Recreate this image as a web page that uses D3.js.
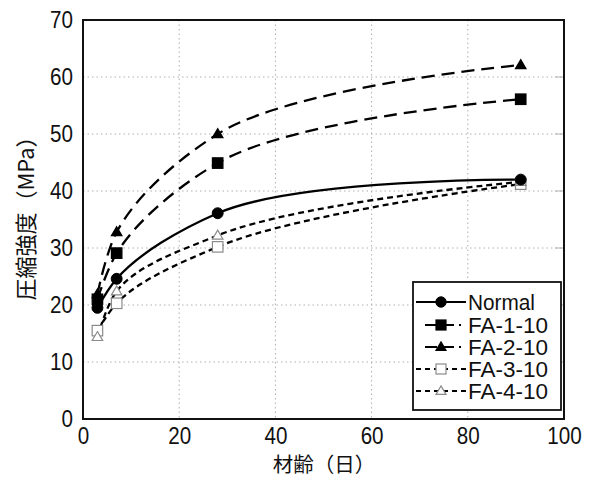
<!DOCTYPE html>
<html><head><meta charset="utf-8">
<script src="https://cdn.jsdelivr.net/npm/d3@7"></script>
<style>
html,body{margin:0;padding:0;background:#fff;}
svg{display:block;}
</style></head>
<body>
<svg id="chart" width="592" height="480"></svg>
<script>
// ---- data ----
const ages = [3, 7, 28, 91];
const normal = [19.5, 24.6, 36.1, 42.0];
const fa110 = [21.0, 29.1, 44.9, 56.1];
const fa210 = [21.9, 32.8, 50.0, 62.1];
const fa310 = [15.5, 20.3, 30.2, 41.2];
const fa410 = [14.4, 22.4, 32.2, 41.6];
const seriesNames = ["Normal", "FA-1-10", "FA-2-10", "FA-3-10", "FA-4-10"];
const xTicks = [0, 20, 40, 60, 80, 100];
const yTicks = [0, 10, 20, 30, 40, 50, 60, 70];
const xTitle = "材齢（日）";
const yTitle = "圧縮強度（MPa）";

const seriesValues = [normal, fa110, fa210, fa310, fa410];
const styles = [
  {dash: null, marker: "circle", fill: "#000", stroke: "#000"},
  {dash: "13,7", marker: "square", fill: "#000", stroke: "#000"},
  {dash: "13,7", marker: "triangle", fill: "#000", stroke: "#000"},
  {dash: "6,4", marker: "square", fill: "#fff", stroke: "#8a8a8a"},
  {dash: "6,4", marker: "triangle", fill: "#fff", stroke: "#8a8a8a"}
];

const svg = d3.select("#chart");
const L = 83, R = 564, T = 20, B = 419;
const x = d3.scaleLinear().domain([0, 100]).range([L, R]);
const y = d3.scaleLinear().domain([0, 70]).range([B, T]);
const numFont = "'Liberation Sans', Arial, sans-serif";
const cjkFont = "'Noto Sans CJK JP', 'Noto Sans', sans-serif";
const SX = 0.86;

// grid
const grid = svg.append("g");
grid.selectAll("line.gx").data(xTicks.filter(d => d > 0 && d < 100)).join("line")
  .attr("x1", d => x(d)).attr("x2", d => x(d)).attr("y1", T).attr("y2", B)
  .attr("stroke", "#b0b0b0").attr("stroke-width", 1).attr("stroke-dasharray", "1.5,3");
grid.selectAll("line.gy").data(yTicks.filter(d => d > 0 && d < 70)).join("line")
  .attr("x1", L).attr("x2", R).attr("y1", d => y(d)).attr("y2", d => y(d))
  .attr("stroke", "#b0b0b0").attr("stroke-width", 1).attr("stroke-dasharray", "1.5,3");
grid.selectAll("line.rt").data(yTicks.filter(d => d > 0 && d < 70)).join("line")
  .attr("x1", R - 9).attr("x2", R).attr("y1", d => y(d)).attr("y2", d => y(d))
  .attr("stroke", "#b0b0b0").attr("stroke-width", 1);

// axes via d3
const xAxis = d3.axisBottom(x).tickValues(xTicks).tickSize(0).tickPadding(8);
const gx = svg.append("g").attr("transform", `translate(0,${B})`).call(xAxis);
gx.select(".domain").remove();
gx.selectAll("text").attr("font-family", numFont).attr("font-size", 24).attr("fill", "#111")
  .attr("transform", `scale(${SX},1)`);

const yAxis = d3.axisLeft(y).tickValues(yTicks).tickSize(0).tickPadding(10);
const gy = svg.append("g").attr("transform", `translate(${L},0)`).call(yAxis);
gy.select(".domain").remove();
gy.selectAll("text").attr("font-family", numFont).attr("font-size", 24).attr("fill", "#111")
  .attr("x", -10 / SX).attr("transform", `scale(${SX},1)`);

// frame
svg.append("rect").attr("x", L).attr("y", T).attr("width", R - L).attr("height", B - T)
  .attr("fill", "none").attr("stroke", "#111").attr("stroke-width", 2);

// lines (smoothed through the measured points)
const lineGen = d3.line().x(d => x(d[0])).y(d => y(d[1])).curve(d3.curveCatmullRom.alpha(0.8));
const plot = svg.append("g");
seriesValues.forEach((vals, i) => {
  const pts = ages.map((a, k) => [a, vals[k]]);
  plot.append("path").attr("d", lineGen(pts)).attr("fill", "none")
    .attr("stroke", "#000").attr("stroke-width", 2.3)
    .attr("stroke-dasharray", styles[i].dash);
});

function drawMarker(g, type, cx, cy, fill, stroke, size) {
  if (type === "circle") {
    g.append("circle").attr("cx", cx).attr("cy", cy).attr("r", size * 0.52)
      .attr("fill", fill).attr("stroke", stroke).attr("stroke-width", 1);
  } else if (type === "square") {
    g.append("rect").attr("x", cx - size / 2).attr("y", cy - size / 2)
      .attr("width", size).attr("height", size)
      .attr("fill", fill).attr("stroke", stroke).attr("stroke-width", 1.2);
  } else {
    const h = size * 0.85;
    g.append("path").attr("d", `M${cx},${cy - h * 0.6}L${cx + size / 2},${cy + h * 0.4}L${cx - size / 2},${cy + h * 0.4}Z`)
      .attr("fill", fill).attr("stroke", stroke).attr("stroke-width", 1.2);
  }
}
[3, 4, 0, 1, 2].forEach(i => {
  seriesValues[i].forEach((v, k) => {
    drawMarker(plot, styles[i].marker, x(ages[k]), y(v), styles[i].fill, styles[i].stroke, 10.5);
  });
});

// legend
const lg = svg.append("g");
const lx0 = 413, ly0 = 282, lx1 = 561, ly1 = 410;
lg.append("rect").attr("x", lx0).attr("y", ly0).attr("width", lx1 - lx0).attr("height", ly1 - ly0)
  .attr("fill", "#fff").attr("stroke", "#111").attr("stroke-width", 1.8);
const rowY = [302, 325, 347, 369, 391];
seriesNames.forEach((name, i) => {
  const cy = rowY[i];
  const s = styles[i];
  let xa = 416, xb = 466;
  if (i === 1 || i === 2) { xa = 425; xb = 461; }
  lg.append("line").attr("x1", xa).attr("x2", xb).attr("y1", cy).attr("y2", cy)
    .attr("stroke", "#000").attr("stroke-width", 2)
    .attr("stroke-dasharray", (i === 1 || i === 2) ? "12,5" : (s.dash ? "5,4" : null));
  drawMarker(lg, s.marker, 441, cy, s.fill, s.stroke, 10);
  lg.append("text").attr("x", 468).attr("y", cy + 8).text(name)
    .attr("font-family", numFont).attr("font-size", 21.5).attr("fill", "#111")
    .attr("textLength", i === 0 ? 67 : 80).attr("lengthAdjust", "spacingAndGlyphs");
});

// titles
svg.append("text").attr("x", 324).attr("y", 472).attr("text-anchor", "middle")
  .attr("font-family", cjkFont).attr("font-size", 20.5).attr("fill", "#111").text(xTitle);
svg.append("text").attr("transform", "translate(34,213) rotate(-90)").attr("text-anchor", "middle")
  .attr("font-family", cjkFont).attr("font-size", 22).attr("fill", "#111").text(yTitle);
</script>
</body></html>
